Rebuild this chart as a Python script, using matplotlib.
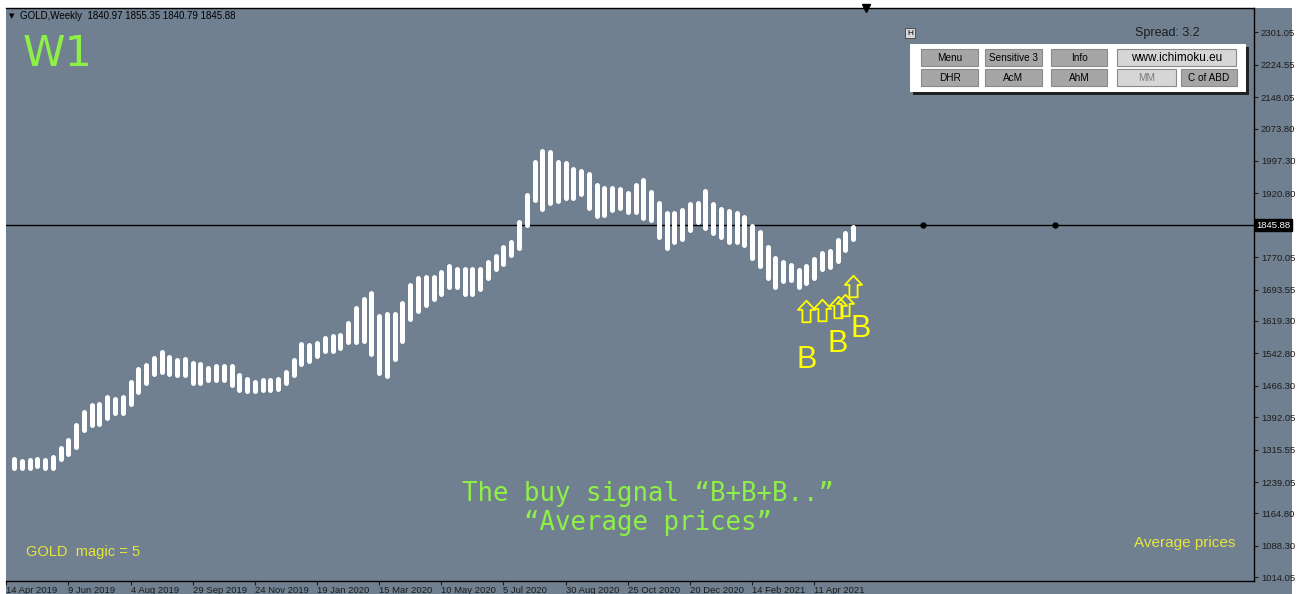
import numpy as np
import matplotlib
matplotlib.use('Agg')
import matplotlib.pyplot as plt
import matplotlib.transforms as mtransforms
from matplotlib.patches import Rectangle
from matplotlib.path import Path

# --- data (weekly bars, "average prices") ---
bar_high = [1299, 1295, 1296, 1300, 1298, 1303, 1326, 1345, 1379, 1411,
            1426, 1429, 1445, 1440, 1445, 1480, 1511, 1521, 1537, 1551,
            1539, 1532, 1535, 1527, 1523, 1515, 1518, 1520, 1518, 1497,
            1489, 1482, 1485, 1487, 1489, 1504, 1532, 1570, 1568, 1574,
            1584, 1590, 1592, 1620, 1657, 1678, 1691, 1637, 1641, 1641,
            1667, 1710, 1726, 1728, 1728, 1741, 1754, 1749, 1749, 1749,
            1748, 1765, 1778, 1801, 1812, 1859, 1922, 2001, 2026, 2024,
            2001, 1998, 1985, 1980, 1972, 1946, 1940, 1940, 1936, 1927,
            1946, 1959, 1930, 1905, 1880, 1880, 1888, 1901, 1903, 1933,
            1901, 1889, 1885, 1880, 1870, 1849, 1836, 1799, 1773, 1765,
            1757, 1746, 1756, 1771, 1785, 1791, 1817, 1833, 1846]
bar_low = [1267, 1267, 1267, 1270, 1267, 1267, 1287, 1299, 1315, 1356,
           1367, 1370, 1384, 1397, 1397, 1417, 1445, 1466, 1489, 1492,
           1488, 1485, 1485, 1468, 1468, 1473, 1474, 1474, 1463, 1450,
           1449, 1449, 1450, 1450, 1452, 1466, 1487, 1511, 1519, 1531,
           1543, 1543, 1549, 1563, 1563, 1565, 1535, 1491, 1484, 1523,
           1565, 1618, 1636, 1652, 1665, 1677, 1694, 1693, 1678, 1677,
           1689, 1714, 1736, 1749, 1769, 1785, 1841, 1898, 1879, 1893,
           1896, 1903, 1904, 1914, 1880, 1862, 1864, 1875, 1880, 1870,
           1870, 1856, 1851, 1812, 1785, 1801, 1807, 1828, 1846, 1834,
           1822, 1811, 1801, 1799, 1792, 1763, 1744, 1714, 1693, 1707,
           1710, 1693, 1702, 1716, 1736, 1740, 1756, 1781, 1807]

date_labels = ['14 Apr 2019', '9 Jun 2019', '4 Aug 2019', '29 Sep 2019',
               '24 Nov 2019', '19 Jan 2020', '15 Mar 2020', '10 May 2020',
               '5 Jul 2020', '30 Aug 2020', '25 Oct 2020', '20 Dec 2020',
               '14 Feb 2021', '11 Apr 2021']
price_ticks = [2301.05, 2224.55, 2148.05, 2073.80, 1997.30, 1920.80,
               1770.05, 1693.55, 1619.30, 1542.80, 1466.30, 1392.05,
               1315.55, 1239.05, 1164.80, 1088.30, 1014.05]
last_price = 1845.88
line_dots = [117, 134]

# buy arrows and "B" labels
arrow_idx = [102, 104, 106, 107, 108]
arrow_price = [1643, 1646, 1652, 1657, 1701]
b_idx = [102, 106, 109]
b_price = [1527, 1565, 1600]

W, H = 1298, 594
bg = '#708090'
green = '#8ef046'
yellow = '#ffff00'
pale_yellow = '#e6e63c'
dark = '#1c1c1c'

fig = plt.figure(figsize=(W / 100, H / 100), dpi=100, facecolor='white')
fig.add_artist(Rectangle((6 / W, 0), 1286 / W, 586 / H, transform=fig.transFigure,
                         facecolor=bg, edgecolor='none', zorder=0))

ax = fig.add_axes([6 / W, 13 / H, 1248 / W, 573 / H])
ax.set_facecolor(bg)
ax.set_xlim(-1.03, 159.6)
ax.set_ylim(1005.3, 2358.4)

# bars (round caps, so pull the ends in by half the line width)
lw_px = 5
cap = (lw_px / 2) * (2358.4 - 1005.3) / 573
idx = np.arange(len(bar_high))
vl = ax.vlines(idx, np.array(bar_low) + cap, np.array(bar_high) - cap,
               colors='white', linewidth=lw_px * 0.72, zorder=3)
vl.set_capstyle('round')

# current price line
ax.axhline(last_price, color='black', lw=1, zorder=2)
ax.plot(line_dots, [last_price] * len(line_dots), 'o', color='black', ms=3.5, zorder=4)

# arrows
arrow_marker = Path([(0, 1), (0.8, 0.15), (0.38, 0.15), (0.38, -1), (-0.38, -1),
                     (-0.38, 0.15), (-0.8, 0.15), (0, 1)],
                    [Path.MOVETO] + [Path.LINETO] * 6 + [Path.CLOSEPOLY])
ax.plot(arrow_idx, arrow_price, linestyle='none', marker=arrow_marker, ms=15.5,
        mec=yellow, mfc='none', mew=1.3, zorder=5)
for xi, yi in zip(b_idx, b_price):
    ax.text(xi, yi, 'B', color=yellow, fontsize=22, ha='center', va='center',
            family='Liberation Sans', zorder=5)

# spines and ticks
ax.spines['left'].set_visible(False)
for s in ['top', 'bottom', 'right']:
    ax.spines[s].set_color('black')
    ax.spines[s].set_linewidth(1)
ax.yaxis.tick_right()
ax.set_yticks(price_ticks)
ax.set_yticklabels(['%.2f' % v for v in price_ticks])
ax.set_xticks([8 * k - 1 for k in range(len(date_labels))])
ax.set_xticklabels(date_labels, ha='left')
ax.tick_params(axis='y', direction='out', length=3, pad=2, labelsize=6.8,
               colors=dark, labelfontfamily='Liberation Sans')
ax.tick_params(axis='x', direction='out', length=3, pad=0.5, labelsize=6.8,
               colors=dark, labelfontfamily='Liberation Sans')

# last price label box
trans = mtransforms.blended_transform_factory(ax.transAxes, ax.transData)
ax.text(1.002, last_price, '%.2f' % last_price, transform=trans, color='white',
        fontsize=6.8, family='Liberation Sans', va='center', ha='left',
        bbox=dict(boxstyle='square,pad=0.15', fc='black', ec='black'), clip_on=False)
ax.plot([109.7], [1], marker='v', color='black', ms=6, clip_on=False,
        transform=mtransforms.blended_transform_factory(ax.transData, ax.transAxes))

# --- overlay in pixel coordinates for texts and the button panel ---
ov = fig.add_axes([0, 0, 1, 1], zorder=10)
ov.set_xlim(0, W)
ov.set_ylim(H, 0)
ov.axis('off')
ov.patch.set_alpha(0)

ov.text(9, 16, '\u25bc', fontsize=5, color='black', va='center', family='DejaVu Sans')
ov.text(20, 16, 'GOLD,Weekly  1840.97 1855.35 1840.79 1845.88', fontsize=7,
        color='black', va='center', family='Liberation Sans')
ov.text(23, 54, 'W1', fontsize=31, color=green, va='center', ha='left',
        family='DejaVu Sans')

ov.text(648, 494, 'The buy signal \u201cB+B+B..\u201d', fontsize=18.5, color=green,
        ha='center', va='center', family='DejaVu Sans Mono')
ov.text(648, 523, '\u201cAverage prices\u201d', fontsize=18.5, color=green,
        ha='center', va='center', family='DejaVu Sans Mono')
ov.text(26, 552, 'GOLD  magic = 5', fontsize=10.5, color=pale_yellow, va='center',
        family=['Liberation Sans Narrow', 'Liberation Sans'])
ov.text(1235, 543, 'Average prices', fontsize=11, color=pale_yellow, va='center',
        ha='right', family='Liberation Sans')
ov.text(1167, 33, 'Spread: 3.2', fontsize=9, color=dark, va='center', ha='center',
        family='Liberation Sans')

# small "H" box
ov.add_patch(Rectangle((905, 28), 10, 10, fc='#d8d8d8', ec='#404040', lw=0.6))
ov.text(910, 33.5, 'H', fontsize=6, ha='center', va='center', color='black',
        family='Liberation Sans')

# button panel
ov.add_patch(Rectangle((913, 47), 336, 48, fc='#202020', ec='none'))
ov.add_patch(Rectangle((910, 44), 336, 48, fc='white', ec='none'))
buttons = [
    ('Menu', 921, 49, 57, '#a6a6a6', 'black', 7.2),
    ('Sensitive 3', 985, 49, 57, '#a6a6a6', 'black', 7.2),
    ('Info', 1051, 49, 56, '#a6a6a6', 'black', 7.2),
    ('www.ichimoku.eu', 1117, 49, 119, '#d6d6d6', 'black', 8.5),
    ('DHR', 921, 69, 57, '#a6a6a6', 'black', 7.2),
    ('AcM', 985, 69, 57, '#a6a6a6', 'black', 7.2),
    ('AhM', 1051, 69, 56, '#a6a6a6', 'black', 7.2),
    ('MM', 1117, 69, 59, '#d6d6d6', '#7a7a7a', 7.2),
    ('C of ABD', 1181, 69, 56, '#a6a6a6', 'black', 7.2),
]
for label, bx, by, bw, fc, tc, fs in buttons:
    ov.add_patch(Rectangle((bx, by), bw, 17, fc=fc, ec='#8a8a8a', lw=0.8))
    ov.text(bx + bw / 2, by + 8.8, label, fontsize=fs, color=tc, ha='center',
            va='center', family='Liberation Sans')

fig.savefig('out.png', dpi=100, facecolor='white')
